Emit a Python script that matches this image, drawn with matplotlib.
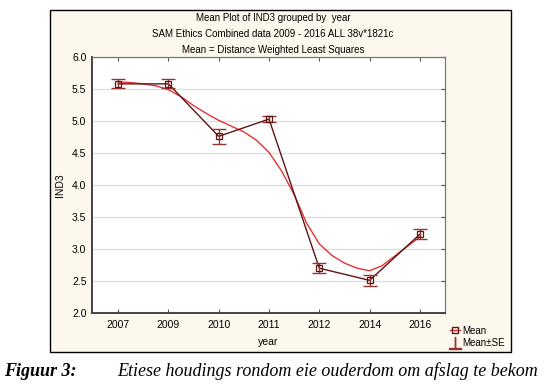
import matplotlib.pyplot as plt
from matplotlib.patches import Rectangle
from matplotlib.lines import Line2D
import numpy as np

# data
years = ['2007', '2009', '2010', '2011', '2012', '2014', '2016']
means = [5.58, 5.58, 4.76, 5.03, 2.70, 2.51, 3.23]
se = [0.07, 0.07, 0.12, 0.05, 0.08, 0.09, 0.08]

# distance weighted least squares curve, read at quarter steps of the category axis
dwls_pos = [0, 0.25, 0.5, 0.75, 1, 1.25, 1.5, 1.75, 2, 2.25, 2.5, 2.75, 3,
            3.25, 3.5, 3.75, 4, 4.25, 4.5, 4.75, 5, 5.25, 5.5, 5.75, 6]
dwls_val = [5.61, 5.60, 5.58, 5.55, 5.49, 5.38, 5.24, 5.12, 5.01, 4.92, 4.83, 4.70, 4.51,
            4.22, 3.85, 3.40, 3.08, 2.90, 2.78, 2.70, 2.66, 2.74, 2.89, 3.04, 3.19]

cream = '#fdf8ee'
dark = '#5e1414'
brown = '#963232'
red = '#e03434'

fig = plt.figure(figsize=(5.45, 3.87), dpi=100)
fig.patch.set_facecolor('white')
W, H = 545, 387

def fx(px):
    return px / W

def fy(py):
    return 1 - py / H

frame = Rectangle((fx(50), fy(352)), fx(511) - fx(50), fy(10) - fy(352),
                  transform=fig.transFigure, facecolor=cream, edgecolor='black',
                  linewidth=1.0, zorder=-1)
fig.patches.append(frame)

ax = fig.add_axes([fx(92), fy(313), fx(445) - fx(92), fy(57) - fy(313)])
ax.set_zorder(2)
ax.set_facecolor('white')

x = np.arange(len(years))
ax.plot(dwls_pos, dwls_val, color=red, linewidth=1.0, zorder=3)
ax.plot(x, means, color=dark, linewidth=1.0, zorder=4)
ax.errorbar(x, means, yerr=se, fmt='none', ecolor=brown, elinewidth=1.0,
            capsize=5, capthick=1.0, zorder=5)
ax.plot(x, means, linestyle='none', marker='s', markersize=5,
        markerfacecolor='none', markeredgecolor=dark, markeredgewidth=0.9, zorder=6)

ax.set_xlim(-0.52, 6.5)
ax.set_ylim(2.0, 6.0)
ax.set_yticks(np.arange(2.0, 6.01, 0.5))
ax.set_yticklabels([f'{v:.1f}' for v in np.arange(2.0, 6.01, 0.5)])
ax.set_xticks(x)
ax.set_xticklabels(years)
ax.yaxis.grid(True, color='#dcdcdc', linewidth=0.9)
ax.set_axisbelow(True)

tick_font = dict(family='Liberation Sans', size=7.5)
for lab in ax.get_xticklabels() + ax.get_yticklabels():
    lab.set_fontfamily('Liberation Sans')
    lab.set_fontsize(7.5)

ax.tick_params(axis='x', direction='in', length=3, color='#555555', pad=5, top=True)
ax.tick_params(axis='y', direction='in', length=3, color='#555555', pad=4,
               left=False, right=True)
for side in ['left', 'bottom']:
    ax.spines[side].set_color('#444444')
    ax.spines[side].set_linewidth(1.4)
for side in ['top', 'right']:
    ax.spines[side].set_color('#777777')
    ax.spines[side].set_linewidth(0.9)

ax.set_xlabel('year', fontdict=tick_font, labelpad=5)
ax.set_ylabel('IND3', fontdict=tick_font, labelpad=5)

title_font = dict(family='Liberation Sans', size=7, ha='center', va='center')
fig.text(fx(273), fy(18), 'Mean Plot of IND3 grouped by  year', **title_font)
fig.text(fx(273), fy(34), 'SAM Ethics Combined data 2009 - 2016 ALL 38v*1821c', **title_font)
fig.text(fx(273), fy(50), 'Mean = Distance Weighted Least Squares', **title_font)

# legend
h_mean = Line2D([], [], color=red, linewidth=1.0, marker='s', markersize=4.5,
                markerfacecolor='none', markeredgecolor=dark)
h_se = Line2D([], [], color=brown, linestyle='none', marker='$\u22A5$', markersize=8)
leg = fig.legend([h_mean, h_se], ['Mean', 'Mean\u00b1SE'],
                 loc='upper left', bbox_to_anchor=(fx(444), fy(320)),
                 frameon=False, handlelength=1.0, handletextpad=0.3,
                 labelspacing=0.25, borderpad=0.1,
                 prop=dict(family='Liberation Sans', size=7))

fig.text(fx(4), fy(371), 'Figuur 3:', family='Liberation Serif', style='italic',
         weight='bold', size=13, va='center', ha='left')
fig.text(fx(117), fy(371), 'Etiese houdings rondom eie ouderdom om afslag te bekom',
         family='Liberation Serif', style='italic', size=13, va='center', ha='left')

fig.savefig('out.png', dpi=100, facecolor='white')
